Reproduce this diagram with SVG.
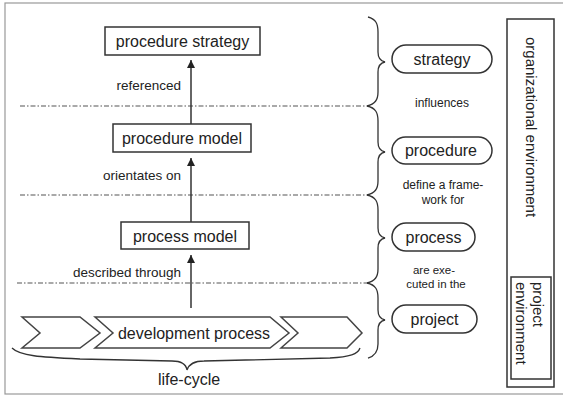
<svg xmlns="http://www.w3.org/2000/svg" width="563" height="396" viewBox="0 0 563 396">
<style>
.box{fill:#fff;stroke:#333;stroke-width:1.5}
.pill{fill:#fff;stroke:#333;stroke-width:1.5}
.t{font-family:"Liberation Sans",Arial,sans-serif;fill:#222}
.big{font-size:16px}
.mid{font-size:13.5px}
.sm{font-size:12px}
.dd{stroke:#555;stroke-width:1.2;stroke-dasharray:5 2 1.5 2;fill:none}
.br{fill:none;stroke:#333;stroke-width:1.3}
.ar{stroke:#333;stroke-width:1.5;fill:none;marker-end:url(#ah)}
.chev{fill:#fff;stroke:#444;stroke-width:1.5}
</style>
<defs>
<marker id="ah" viewBox="0 0 10 10" refX="10" refY="5" markerWidth="8" markerHeight="8" markerUnits="userSpaceOnUse" orient="auto">
<path d="M0,0 L10,5 L0,10 Z" fill="#222"/>
</marker>
</defs>
<rect x="0" y="0" width="563" height="396" fill="#fff"/>
<rect x="5" y="3" width="570" height="391" fill="none" stroke="#999" stroke-width="1.2"/>

<g id="separators">
<line class="dd" x1="20" y1="106" x2="367" y2="106"/>
<line class="dd" x1="20" y1="195" x2="367" y2="195"/>
<line class="dd" x1="17" y1="283" x2="367" y2="283"/>
</g>

<g id="connectors">
<line class="ar" x1="191" y1="124" x2="191" y2="60"/>
<line class="ar" x1="191" y1="222" x2="191" y2="158"/>
<line class="ar" x1="191" y1="308" x2="191" y2="255"/>
<path class="br" d="M368,17 C376,19 378,24 378,32 L378,52 C378,58 380,61 385,62 C380,63 378,66 378,72 L378,92 C378,100 375,104 367,106"/>
<path class="br" d="M367,106 C376,108 378,113 378,121 L378,142 C378,148 380,151 385,152 C380,153 378,156 378,162 L378,181 C378,189 375,193 367,195"/>
<path class="br" d="M367,195 C376,197 378,202 378,210 L378,228 C378,234 380,237 385,238 C380,239 378,242 378,248 L378,269 C378,277 375,281 367,283"/>
<path class="br" d="M367,283 C376,285 378,290 378,298 L378,310 C378,316 380,319 385,320 C380,321 378,324 378,330 L378,344 C378,352 375,356 368,358"/>
<path class="br" d="M12,348 C20,356 40,357 80,359 L172,361 C181,361 186,364 187,370 C189,364 194,361 204,361 L330,358 C350,357 358,354 360,348"/>
</g>

<g id="procedure-strategy">
<rect class="box" x="105" y="27" width="155" height="28"/>
<text class="t big" x="182.5" y="47" text-anchor="middle">procedure strategy</text>
</g>
<g id="procedure-model">
<rect class="box" x="113" y="124" width="138" height="28"/>
<text class="t big" x="182" y="144" text-anchor="middle">procedure model</text>
</g>
<g id="process-model">
<rect class="box" x="121" y="222" width="128" height="27"/>
<text class="t big" x="185" y="241.5" text-anchor="middle">process model</text>
</g>
<g id="development-process">
<path class="chev" d="M22,317 L80,317 L100,333 L80,348 L22,348 L40,333 Z"/>
<path class="chev" d="M95,317 L270,317 L289,333 L270,348 L95,348 L113,333 Z"/>
<path class="chev" d="M281,317 L347,317 L362,333 L347,348 L281,348 L298,333 Z"/>
<text class="t big" x="194" y="338.5" text-anchor="middle">development process</text>
</g>

<g id="labels">
<text class="t mid" x="181" y="89.5" text-anchor="end">referenced</text>
<text class="t mid" x="181" y="179.5" text-anchor="end">orientates on</text>
<text class="t mid" x="181" y="276.5" text-anchor="end">described through</text>
<text class="t big" x="189" y="385" text-anchor="middle">life-cycle</text>
<text class="t sm" x="442" y="107" text-anchor="middle">influences</text>
<text class="t sm" x="443" y="189" text-anchor="middle">define a frame-</text>
<text class="t sm" x="443" y="204" text-anchor="middle">work for</text>
<text class="t" style="font-size:11.5px" x="434" y="274" text-anchor="middle">are exe-</text>
<text class="t" style="font-size:11.5px" x="436" y="288" text-anchor="middle">cuted in the</text>
</g>

<g id="strategy">
<rect class="pill" x="392" y="45" width="100" height="28" rx="14"/>
<text class="t big" x="442" y="64.5" text-anchor="middle">strategy</text>
</g>
<g id="procedure">
<rect class="pill" x="392" y="137" width="100" height="27" rx="13.5"/>
<text class="t big" x="441" y="156" text-anchor="middle">procedure</text>
</g>
<g id="process">
<rect class="pill" x="392" y="223" width="83" height="28" rx="14"/>
<text class="t big" x="433.5" y="242.5" text-anchor="middle">process</text>
</g>
<g id="project">
<rect class="pill" x="392" y="305" width="85" height="28" rx="14"/>
<text class="t big" x="434.5" y="324.5" text-anchor="middle">project</text>
</g>

<g id="organizational-environment">
<rect class="box" x="507" y="19" width="47" height="368"/>
<text class="t" style="font-size:15px" transform="translate(526,37) rotate(90)">organizational environment</text>
</g>
<g id="project-environment">
<rect class="box" x="511" y="277" width="40" height="102"/>
<text class="t" style="font-size:15px" transform="translate(533,282) rotate(90)">project</text>
<text class="t" style="font-size:15px" transform="translate(516,282) rotate(90)">environment</text>
</g>
</svg>
